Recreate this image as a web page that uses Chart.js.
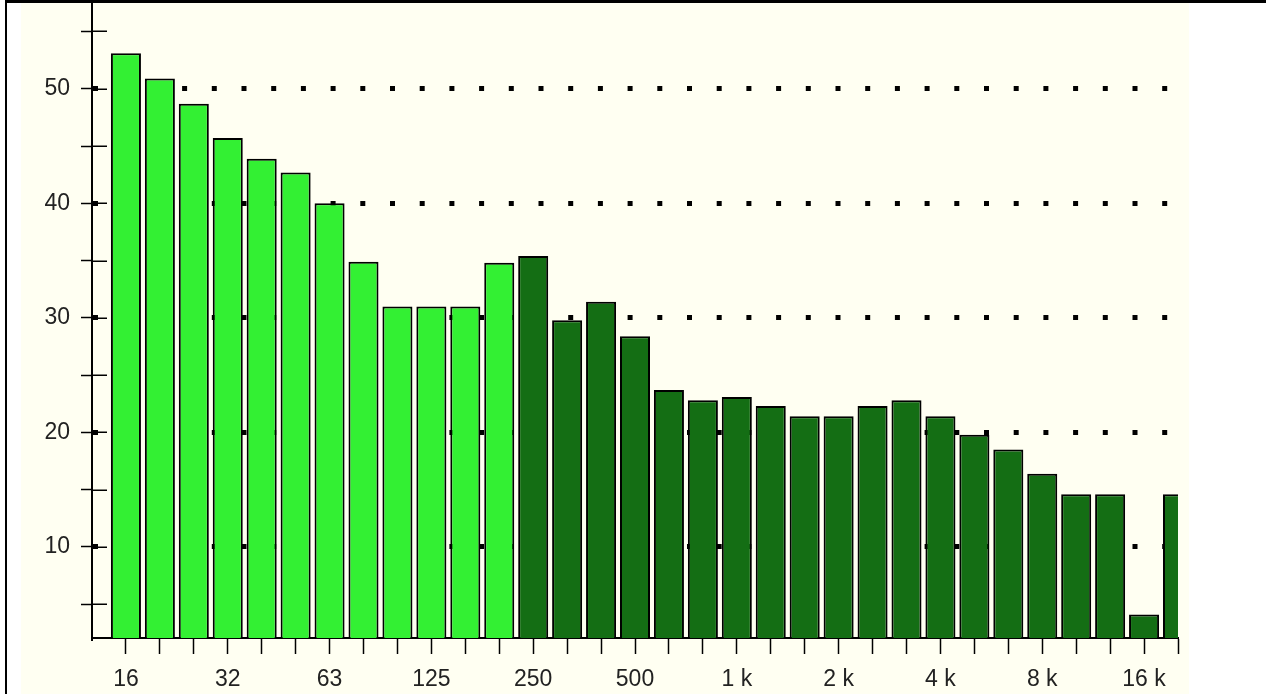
<!DOCTYPE html>
<html>
<head>
<meta charset="utf-8">
<script src="https://cdn.jsdelivr.net/npm/chart.js@4/dist/chart.umd.min.js"></script>
<style>
    html, body { margin: 0; padding: 0; background: #fff; overflow: hidden; }
    #frame {
        position: absolute; left: 5px; top: 0; width: 1261px; height: 720px;
        border-top: 3px solid #000; border-left: 2px solid #000;
    }
    #paper {
        position: absolute; left: 21px; top: 3px; width: 1168px; height: 700px;
        background: #fffff2;
    }
    #wrap { position: absolute; left: 0; top: 0; width: 1266px; height: 694px; }
</style>
</head>
<body>
<div id="frame"></div>
<div id="paper"></div>
<div id="wrap"><canvas id="bandChart"></canvas></div>
<script>
// third-octave bands, Hz
const bands = ['16', '20', '25', '32', '40', '50', '63', '80', '100', '125', '160', '200',
    '250', '315', '400', '500', '630', '800', '1 k', '1.25 k', '1.6 k', '2 k', '2.5 k', '3.15 k',
    '4 k', '5 k', '6.3 k', '8 k', '10 k', '12.5 k', '16 k', '20 k'];
const shownLabels = ['16', '32', '63', '125', '250', '500', '1 k', '2 k', '4 k', '8 k', '16 k'];

// levels per band
const levels = [53.1, 50.9, 48.7, 45.7, 43.9, 42.7, 40.0, 34.9, 31.0, 31.0, 31.0, 34.8,
    35.4, 29.8, 31.4, 28.4, 23.7, 22.8, 23.1, 22.3, 21.4, 21.4, 22.3, 22.8,
    21.4, 19.8, 18.5, 16.4, 14.6, 14.6, 4.1, 14.6];
const lowBandCount = 12;

const yMin = 2.05;
const yMax = 57.4;

const LIGHT = '#33f033';
const DARK = '#146e14';

// y ticks cross the axis, chart.js only draws the outer half
const innerTicks = {
    id: 'innerTicks',
    afterDatasetsDraw(chart) {
        const y = chart.scales.y;
        const ctx = chart.ctx;
        ctx.save();
        ctx.strokeStyle = '#000';
        ctx.lineWidth = 1.5;
        y.ticks.forEach(t => {
            const py = Math.round(y.getPixelForValue(t.value)) + 0.25;
            ctx.beginPath();
            ctx.moveTo(y.right, py);
            ctx.lineTo(y.right + 15, py);
            ctx.stroke();
        });
        ctx.restore();
    }
};

function initChart() {
    const labels = [''].concat(bands);
    const data = [null].concat(levels);
    const colors = [LIGHT].concat(levels.map((v, i) => i < lowBandCount ? LIGHT : DARK));

    const ctx = document.getElementById('bandChart').getContext('2d');
    new Chart(ctx, {
        type: 'bar',
        data: {
            labels: labels,
            datasets: [{
                data: data,
                backgroundColor: colors,
                borderColor: '#000',
                borderWidth: 2,
                categoryPercentage: 1.0,
                barPercentage: 0.885
            }]
        },
        options: {
            responsive: true,
            maintainAspectRatio: false,
            animation: false,
            layout: { padding: { left: 22, right: 88, top: 4, bottom: 0 } },
            plugins: {
                legend: { display: false },
                tooltip: { enabled: false }
            },
            scales: {
                x: {
                    offset: false,
                    afterFit: s => { s.height = 56; },
                    grid: {
                        offset: false,
                        drawOnChartArea: false,
                        color: '#000',
                        tickColor: '#000',
                        tickLength: 16,
                        tickWidth: 1.5
                    },
                    border: { display: true, color: '#000', width: 2 },
                    ticks: {
                        autoSkip: false,
                        maxRotation: 0,
                        padding: 12,
                        color: '#222',
                        font: { family: 'Liberation Sans', size: 23 },
                        callback: function (val, idx) {
                            if (idx === 0) return null;
                            const lab = this.getLabelForValue(val);
                            return shownLabels.includes(lab) ? lab : '';
                        }
                    }
                },
                y: {
                    min: yMin,
                    max: yMax,
                    afterFit: s => {
                        s.width = 70;
                        s.paddingTop = 0;
                        s.paddingBottom = 0;
                    },
                    grid: {
                        color: c => (c.tick && c.tick.value % 10 === 0) ? '#000' : 'rgba(0,0,0,0)',
                        lineWidth: 5,
                        tickColor: '#000',
                        tickWidth: 1.5,
                        tickBorderDash: [],
                        tickLength: 11
                    },
                    border: { display: true, color: '#000', width: 2, dash: [5, 24.7] },
                    ticks: {
                        stepSize: 5,
                        includeBounds: false,
                        padding: 11,
                        color: '#222',
                        font: { family: 'Liberation Sans', size: 23 },
                        callback: v => v % 10 === 0 ? v : ''
                    }
                }
            }
        },
        plugins: [innerTicks]
    });
}

document.addEventListener('DOMContentLoaded', initChart);
</script>
</body>
</html>
